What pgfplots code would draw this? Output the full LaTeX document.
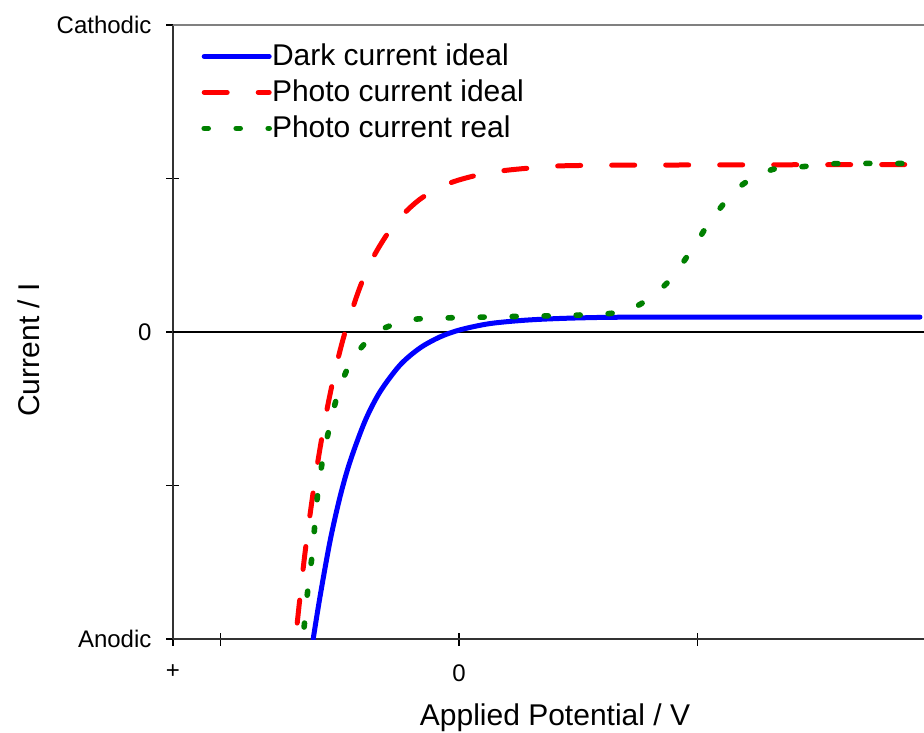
\documentclass[border=0pt]{standalone}
\usepackage{pgfplots}
\pgfplotsset{compat=1.18}
\usepackage{fontspec}
\setmainfont{Liberation Sans}
\usetikzlibrary{calc}
\definecolor{darkgreen}{RGB}{0,128,0}
\begin{document}
\begin{tikzpicture}
\begin{axis}[
  scale only axis,
  width=375.5pt, height=307pt,
  xmin=-1.2, xmax=1.95, ymin=-2, ymax=2,
  axis x line*=bottom, axis y line*=left,
  axis line style={line width=1pt, color=black!80, -},
  xtick={-1.2,-1,0,1}, xticklabels={+,,0,},
  ytick={-2,-1,0,1,2}, yticklabels={Anodic,,0,,Cathodic},
  tick align=center, major tick length=6.5pt,
  tick style={line width=0.8pt, black},
  /pgf/number format/assume math mode=true,
  ticklabel style={font=\fontsize{12}{14}\selectfont},
  xticklabel style={yshift=-6pt},
  yticklabel style={xshift=-4pt},
  xlabel={Applied Potential / V},
  ylabel={Current / I},
  label style={font=\fontsize{15}{18}\selectfont},
  xlabel style={at={(rel axis cs:0.5087,-0.1287)}, anchor=center},
  ylabel style={at={(rel axis cs:-0.1917,0.4707)}, anchor=center, rotate=0},
  legend style={draw=none, fill=none, at={(rel axis cs:0.0293,0.981)}, anchor=north west,
    font=\fontsize{15}{18}\selectfont, row sep=2.6pt,
    /tikz/every even column/.append style={column sep=0pt},
    nodes={inner xsep=0pt, inner ysep=1.5pt}},
  legend cell align=left,
  legend image code/.code={\draw[#1] (1.25pt,0pt) -- (33.75pt,0pt);},
]
\draw[black!50, line width=0.8pt] (rel axis cs:0,1) -- (rel axis cs:1,1);
\addplot[black, line width=1pt, forget plot] coordinates {(-1.2,0) (1.95,0)};
\addplot[blue, line width=2.5pt, smooth, line cap=round] coordinates {
(-0.612,-2.0) (-0.583,-1.721) (-0.541,-1.360) (-0.499,-1.071) (-0.457,-0.842)
(-0.394,-0.578) (-0.331,-0.388) (-0.247,-0.214) (-0.164,-0.104) (-0.080,-0.032)
(0.004,0.014) (0.130,0.055) (0.298,0.079) (0.507,0.092) (0.801,0.097) (1.933,0.097)};
\addlegendentry{Dark current ideal}
\addplot[red, line width=2.5pt, smooth, line cap=round, dash pattern=on 11.5pt off 15.5pt] coordinates {
(-0.679,-1.896) (-0.646,-1.435) (-0.604,-0.958) (-0.562,-0.569) (-0.520,-0.253)
(-0.478,0.0) (-0.415,0.295) (-0.352,0.510) (-0.268,0.709) (-0.164,0.865)
(-0.038,0.971) (0.130,1.039) (0.340,1.073) (0.591,1.086) (1.95,1.091)};
\addlegendentry{Photo current ideal}
\addplot[darkgreen, line width=2.8pt, smooth, line cap=round, dash pattern=on 2pt off 14pt] coordinates {
(-0.650,-1.922) (-0.633,-1.656) (-0.616,-1.448) (-0.604,-1.234) (-0.591,-1.026)
(-0.570,-0.812) (-0.541,-0.604) (-0.507,-0.396) (-0.449,-0.182) (-0.344,0.0)
(-0.205,0.078) (-0.067,0.091) (0.101,0.097) (0.604,0.117) (0.746,0.169)
(0.876,0.325) (0.977,0.539) (1.065,0.747) (1.178,0.948) (1.312,1.058)
(1.447,1.078) (1.585,1.097) (1.95,1.097)};
\addlegendentry{Photo current real}
\end{axis}
\pgfresetboundingbox
\path[use as bounding box] ($(current axis.south west)+(-86.5pt,-46.5pt)$) rectangle ($(current axis.north east)+(0pt,12.5pt)$);
\end{tikzpicture}
\end{document}
